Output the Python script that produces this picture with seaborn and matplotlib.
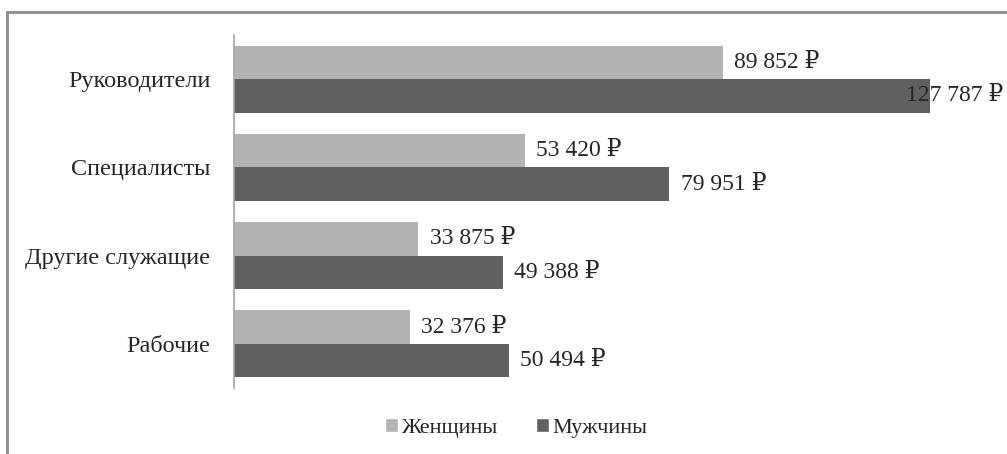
import matplotlib
matplotlib.use("Agg")
import matplotlib.pyplot as plt
import seaborn as sns
import pandas as pd
from matplotlib.lines import Line2D
from matplotlib.patches import Patch

categories = ["Руководители", "Специалисты", "Другие служащие", "Рабочие"]
series = ["Женщины", "Мужчины"]
women = [89852, 53420, 33875, 32376]
men = [127787, 79951, 49388, 50494]
colors = ["#b3b3b3", "#606060"]

rows = []
for c, w, m in zip(categories, women, men):
    rows.append({"cat": c, "sex": series[0], "val": w})
    rows.append({"cat": c, "sex": series[1], "val": m})
df = pd.DataFrame(rows)

sns.set_style("white")
plt.rcParams["font.family"] = ["Liberation Serif", "DejaVu Serif"]
plt.rcParams["font.size"] = 17

W, H = 1007, 454
fig = plt.figure(figsize=(W / 100, H / 100), dpi=100)
ax = fig.add_axes([234 / W, 1 - 388 / H, (996.5 - 234) / W, (388 - 35) / H])

sns.barplot(data=df, y="cat", x="val", hue="sex", order=categories,
            hue_order=series, palette=colors, orient="h", width=0.76,
            saturation=1, ax=ax, legend=False, edgecolor="none")

ax.set_xlim(0, 140000)
ax.set_ylim(3.5, -0.5)
ax.set_xlabel("")
ax.set_ylabel("")
ax.set_xticks([])
ax.tick_params(axis="y", length=0, pad=17, labelsize=17.5)
for s in ["top", "right", "bottom"]:
    ax.spines[s].set_visible(False)
ax.spines["left"].set_color("#a6a6a6")
ax.spines["left"].set_linewidth(1.2)

def fmt(v):
    return f"{v:,}".replace(",", " ") + " ₽"

texts = []
for cont, vals in zip(ax.containers, [women, men]):
    texts.append(ax.bar_label(cont, labels=[fmt(v) for v in vals], padding=8,
                              fontsize=17, clip_on=False))

# the longest label is pulled back over the bar end, as in the reference
texts[1][0].xyann = (-17, 0)

handles = [Patch(facecolor=colors[0]), Patch(facecolor=colors[1])]
fig.legend(handles, series, loc="center", bbox_to_anchor=(516 / W, 1 - 428 / H),
           ncol=2, frameon=False, fontsize=16, handlelength=0.6,
           handleheight=0.6, handletextpad=0.15, columnspacing=1.7)

x0 = 6.5 / W
y0 = 1 - 11.5 / H
fig.add_artist(Line2D([x0, x0], [0, y0], transform=fig.transFigure,
                      color="#8c8c8c", linewidth=2.0))
fig.add_artist(Line2D([x0, 1], [y0, y0], transform=fig.transFigure,
                      color="#8c8c8c", linewidth=2.0))

fig.savefig("out.png", dpi=100, facecolor="white")
